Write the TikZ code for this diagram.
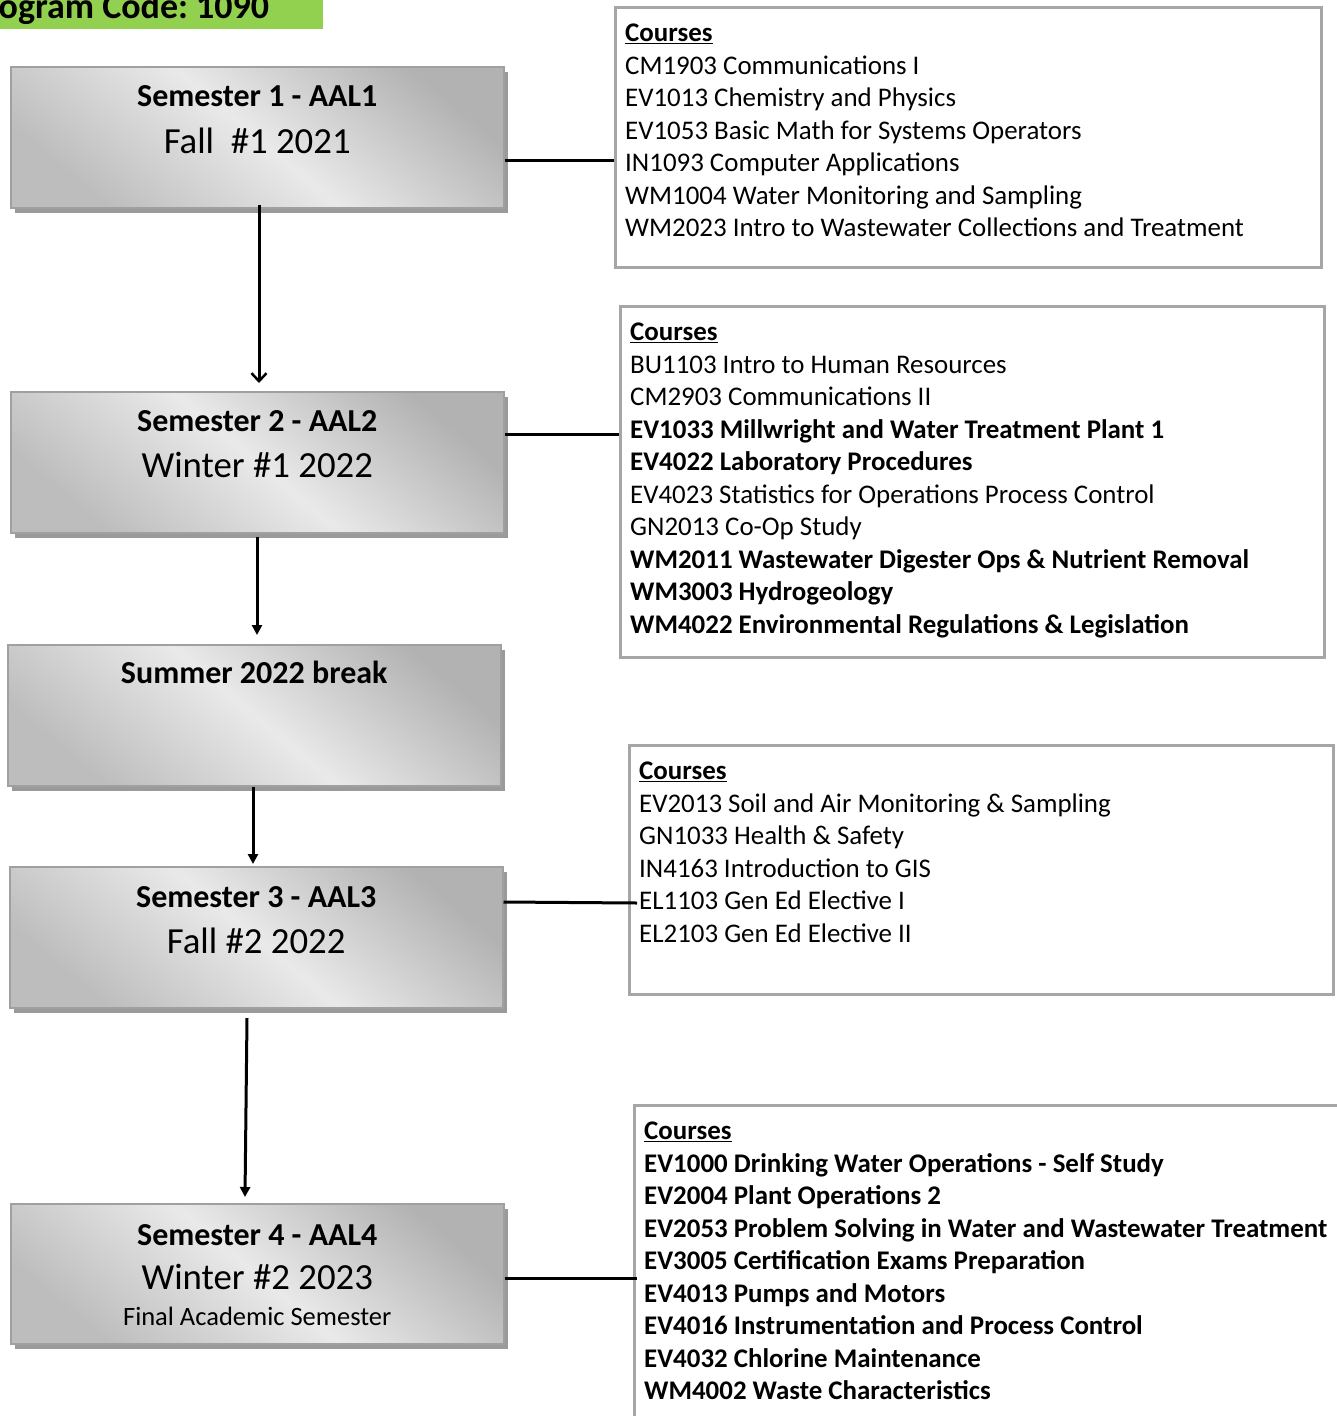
\documentclass[tikz,border=0pt]{standalone}
\usepackage{fontspec}
\setmainfont{Carlito}
\frenchspacing
\usetikzlibrary{arrows.meta,shadows,calc}
\definecolor{hdrgreen}{HTML}{92D050}
\definecolor{cborder}{HTML}{A6A6A6}
\definecolor{sborder}{HTML}{A0A0A0}
\definecolor{sshadow}{HTML}{9A9A9A}
\begin{document}
\begin{tikzpicture}[x=1pt,y=-1pt,
  sembox/.style={rectangle, draw=sborder, line width=1.5pt, minimum width=493pt, minimum height=141pt, anchor=north west,
     top color=gray!60, bottom color=gray!52, middle color=gray!17, shading angle=-40,
     general shadow={fill=sshadow, shadow xshift=4pt, shadow yshift=-5pt}, inner sep=0pt},
  crsbox/.style={rectangle, draw=cborder, line width=3pt, fill=white, anchor=north west, inner sep=0pt},
  crstext/.style={anchor=north west, align=left, inner sep=0pt, font=\fontsize{26.9}{32.5}\selectfont},
  semtitle/.style={anchor=base, inner sep=0pt, font=\bfseries\fontsize{32}{36}\selectfont},
  semsub/.style={anchor=base, inner sep=0pt, font=\fontsize{36.8}{42}\selectfont},
  semsmall/.style={anchor=base, inner sep=0pt, font=\fontsize{26.5}{30}\selectfont},
  conn/.style={line width=3pt},
  flowarrow/.style={line width=3pt, -{Triangle[length=10pt,width=10pt]}}
]
\useasboundingbox (0,0) rectangle (1337,1416);
\clip (0,0) rectangle (1337,1416);

% header
\node[rectangle, fill=hdrgreen, minimum width=323pt, minimum height=29pt, anchor=north west, inner sep=0pt] (hdr) at (0,0) {};
\node[anchor=base west, inner sep=0pt, font=\bfseries\fontsize{36}{40}\selectfont] (hdrtext) at (-33,18) {Program Code: 1090};

% semester boxes
\node[sembox] (s1) at (10,66) {};
\node[semtitle] (s1t) at ($(s1.north)+(0,40)$) {Semester 1 - AAL1};
\node[semsub] (s1s) at ($(s1.north)+(0,87)$) {Fall\ \ \#1 2021};

\node[sembox] (s2) at (10,391) {};
\node[semtitle] (s2t) at ($(s2.north)+(0,40)$) {Semester 2 - AAL2};
\node[semsub] (s2s) at ($(s2.north)+(0,86)$) {Winter \#1 2022};

\node[sembox] (sb) at (7,644) {};
\node[semtitle] (sbt) at ($(sb.north)+(0,39)$) {Summer 2022 break};

\node[sembox] (s3) at (9,866) {};
\node[semtitle] (s3t) at ($(s3.north)+(0,41)$) {Semester 3 - AAL3};
\node[semsub] (s3s) at ($(s3.north)+(0,87)$) {Fall \#2 2022};

\node[sembox, minimum height=140pt] (s4) at (10,1203) {};
\node[semtitle] (s4t) at ($(s4.north)+(0,42)$) {Semester 4 - AAL4};
\node[semsub] (s4s) at ($(s4.north)+(0,86)$) {Winter \#2 2023};
\node[semsmall] (s4f) at ($(s4.north)+(0,122)$) {Final Academic Semester};

% course boxes
\node[crsbox, minimum width=706pt, minimum height=260pt] (c1) at (614,6) {};
\node[crstext] (c1t) at (625,24) {\textbf{\underline{Courses}}\\
CM1903 Communications I\\
EV1013 Chemistry and Physics\\
EV1053 Basic Math for Systems Operators\\
IN1093 Computer Applications\\
WM1004 Water Monitoring and Sampling\\
WM2023 Intro to Wastewater Collections and Treatment};

\node[crsbox, minimum width=704pt, minimum height=351pt] (c2) at (619,305) {};
\node[crstext] (c2t) at (630,323) {\textbf{\underline{Courses}}\\
BU1103 Intro to Human Resources\\
CM2903 Communications II\\
\textbf{EV1033 Millwright and Water Treatment Plant 1}\\
\textbf{EV4022 Laboratory Procedures}\\
EV4023 Statistics for Operations Process Control\\
GN2013 Co-Op Study\\
\textbf{WM2011 Wastewater Digester Ops \& Nutrient Removal}\\
\textbf{WM3003 Hydrogeology}\\
\textbf{WM4022 Environmental Regulations \& Legislation}};

\node[crsbox, minimum width=704pt, minimum height=249pt] (c3) at (628,744) {};
\node[crstext] (c3t) at (639,762) {\textbf{\underline{Courses}}\\
EV2013 Soil and Air Monitoring \& Sampling\\
GN1033 Health \& Safety\\
IN4163 Introduction to GIS\\
EL1103 Gen Ed Elective I\\
EL2103 Gen Ed Elective II};

\node[crsbox, minimum width=720pt, minimum height=330pt] (c4) at (633,1104) {};
\node[crstext] (c4t) at (644,1122) {\textbf{\underline{Courses}}\\
\textbf{EV1000 Drinking Water Operations - Self Study}\\
\textbf{EV2004 Plant Operations 2}\\
\textbf{EV2053 Problem Solving in Water and Wastewater Treatment}\\
\textbf{EV3005 Certification Exams Preparation}\\
\textbf{EV4013 Pumps and Motors}\\
\textbf{EV4016 Instrumentation and Process Control}\\
\textbf{EV4032 Chlorine Maintenance}\\
\textbf{WM4002 Waste Characteristics}};

% connectors to course boxes
\draw[conn] (s1.east |- 0,160) -- (c1.west |- 0,160);
\draw[conn] (s2.east |- 0,434) -- (c2.west |- 0,434);
\draw[conn] (s3.east |- 0,902) -- ([xshift=9pt]c3.west |- 0,903);
\draw[conn] (s4.east |- 0,1278) -- ([xshift=4pt]c4.west |- 0,1278);

% flow arrows
\draw[line width=3pt, -{Straight Barb[length=8pt,width=15pt,line width=2.5pt]}] (259,205) -- (259,383);
\draw[flowarrow] (257,537) -- (257,635);
\draw[flowarrow] (253,787) -- (253,864);
\draw[flowarrow] (247,1018) -- (245,1197);
\end{tikzpicture}
\end{document}
